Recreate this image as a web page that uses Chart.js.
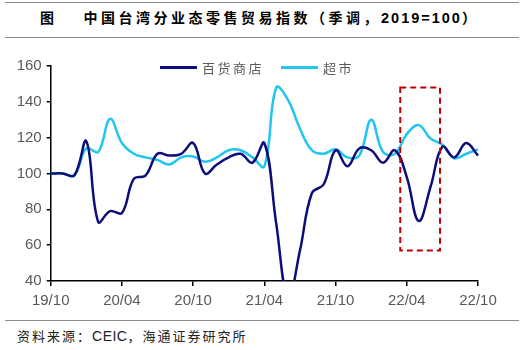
<!DOCTYPE html>
<html>
<head>
<meta charset="utf-8">
<script src="https://cdn.jsdelivr.net/npm/chart.js@4/dist/chart.umd.min.js"></script>
<style>
  html, body { margin: 0; padding: 0; background: #fff; }
  body { width: 525px; height: 350px; position: relative; overflow: hidden;
         font-family: "Liberation Sans", Arial, "Noto Sans CJK SC", sans-serif; }
  .rule { position: absolute; left: 5px; right: 6px; height: 0; border-top: 1.5px solid #8c8c8c; }
  #title { position: absolute; top: 7px; left: 40px; font-size: 14px; font-weight: bold; color: #000;
           letter-spacing: 3.5px; white-space: nowrap;
           font-family: "Liberation Sans", Arial, "Noto Sans CJK SC", sans-serif; }
  #title .fig { margin-right: 26px; }
  #title .num { letter-spacing: 2px; font-size: 14.5px; }
  #source { position: absolute; top: 326px; left: 17px; font-size: 13px; color: #222; white-space: nowrap;
            letter-spacing: 2px;
            font-family: "Liberation Sans", Arial, "Noto Sans CJK SC", sans-serif; }
  #source .num { letter-spacing: 0.5px; font-size: 14px; }
  #wrap { position: absolute; left: 0; top: 40px; width: 525px; height: 280px; }
  .legend { position: absolute; top: 58px; font-size: 13px; color: #595959; letter-spacing: 2.5px;
            font-family: "Noto Sans CJK SC", sans-serif; white-space: nowrap; }
  .legend i { display: inline-block; width: 37px; height: 0; border-top: 3px solid; vertical-align: middle;
              margin-right: 5px; position: relative; top: -2px; }
</style>
</head>
<body>
<div class="rule" style="top:2px"></div>
<div id="title"><span class="fig">图</span>中国台湾分业态零售贸易指数（季调，<span class="num">2019=100</span>）</div>
<div class="rule" style="top:37px"></div>
<div id="wrap"><canvas id="chart"></canvas></div>
<div class="legend" style="left:160px"><i style="border-color:#0d0d7a"></i>百货商店</div>
<div class="legend" style="left:281px"><i style="border-color:#20c5f0"></i>超市</div>
<div class="rule" style="top:320px; border-top-width:1.2px"></div>
<div id="source">资料来源：<span class="num">CEIC</span>，海通证券研究所</div>

<script>
// 月份 19/10 ~ 22/10
const months = [
  '19/10','19/11','19/12','20/01','20/02','20/03','20/04','20/05','20/06','20/07','20/08','20/09',
  '20/10','20/11','20/12','21/01','21/02','21/03','21/04','21/05','21/06','21/07','21/08','21/09',
  '21/10','21/11','21/12','22/01','22/02','22/03','22/04','22/05','22/06','22/07','22/08','22/09',
  '22/10'
];

const deptStore = [
  100, 100, 99, 118, 73, 79, 78, 97, 99, 111, 110, 111,
  117, 100, 105, 109, 111, 106, 117, 72, 30, 57, 89, 94,
  113, 104, 114, 113, 106, 113, 98, 73.5, 92.5, 115, 109, 117,
  110
];

const supermarket = [
  100, 100, 99, 114, 112, 130.5, 117, 111, 109, 107.5, 105, 109,
  109.5, 106.5, 109, 113, 113, 109, 104, 148, 141, 125, 113, 111,
  113.5, 109, 110, 130, 112, 111, 122, 127, 119.5, 116, 108.5, 111,
  113.5
];

const yTicks = [40, 60, 80, 100, 120, 140, 160];

// 虚线框 (月份索引 / 指数值)
const boxRange = { x0: 29.45, x1: 32.8, y0: 57, y1: 148 };

const dashBox = {
  id: 'dashBox',
  afterDatasetsDraw(chart) {
    const { ctx, scales: { x, y } } = chart;
    const l = x.getPixelForValue(boxRange.x0), r = x.getPixelForValue(boxRange.x1);
    const t = y.getPixelForValue(boxRange.y1), b = y.getPixelForValue(boxRange.y0);
    ctx.save();
    ctx.strokeStyle = '#c00000';
    ctx.lineWidth = 2;
    ctx.setLineDash([6, 4]);
    ctx.strokeRect(l, t, r - l, b - t);
    ctx.restore();
  }
};

new Chart(document.getElementById('chart'), {
  type: 'line',
  plugins: [dashBox],
  data: {
    labels: months,
    datasets: [
      { label: '百货商店', data: deptStore, borderColor: '#0d0d7a', borderWidth: 2.5,
        pointRadius: 0, tension: 0.4 },
      { label: '超市', data: supermarket, borderColor: '#20c5f0', borderWidth: 2.5,
        pointRadius: 0, tension: 0.4 }
    ]
  },
  options: {
    responsive: true,
    maintainAspectRatio: false,
    animation: false,
    layout: { padding: { top: 26, right: 47, left: 0, bottom: 0 } },
    scales: {
      x: {
        offset: false,
        afterFit: (s) => { s.height = 39; },
        border: { color: '#000', width: 1.5 },
        grid: {
          drawOnChartArea: false,
          tickLength: 5,
          color: (c) => (c.index % 6 === 0 ? '#000' : 'rgba(0,0,0,0)'),
          lineWidth: 1.5
        },
        ticks: {
          autoSkip: false,
          maxRotation: 0,
          padding: 6,
          color: '#595959',
          font: { family: '"Liberation Sans", Arial', size: 15 },
          callback: (v, i) => (i % 6 === 0 ? months[i] : '')
        }
      },
      y: {
        min: 40,
        max: 160,
        afterFit: (s) => { s.width = 50.7; },
        afterBuildTicks: (s) => { s.ticks = yTicks.map(v => ({ value: v })); },
        border: { color: '#000', width: 1.5 },
        grid: { drawOnChartArea: false, tickLength: 4, color: '#000', lineWidth: 1.5 },
        ticks: {
          padding: 5,
          color: '#595959',
          font: { family: '"Liberation Sans", Arial', size: 15 }
        }
      }
    },
    plugins: {
      legend: { display: false },
      tooltip: { enabled: false }
    }
  }
});
</script>
</body>
</html>
